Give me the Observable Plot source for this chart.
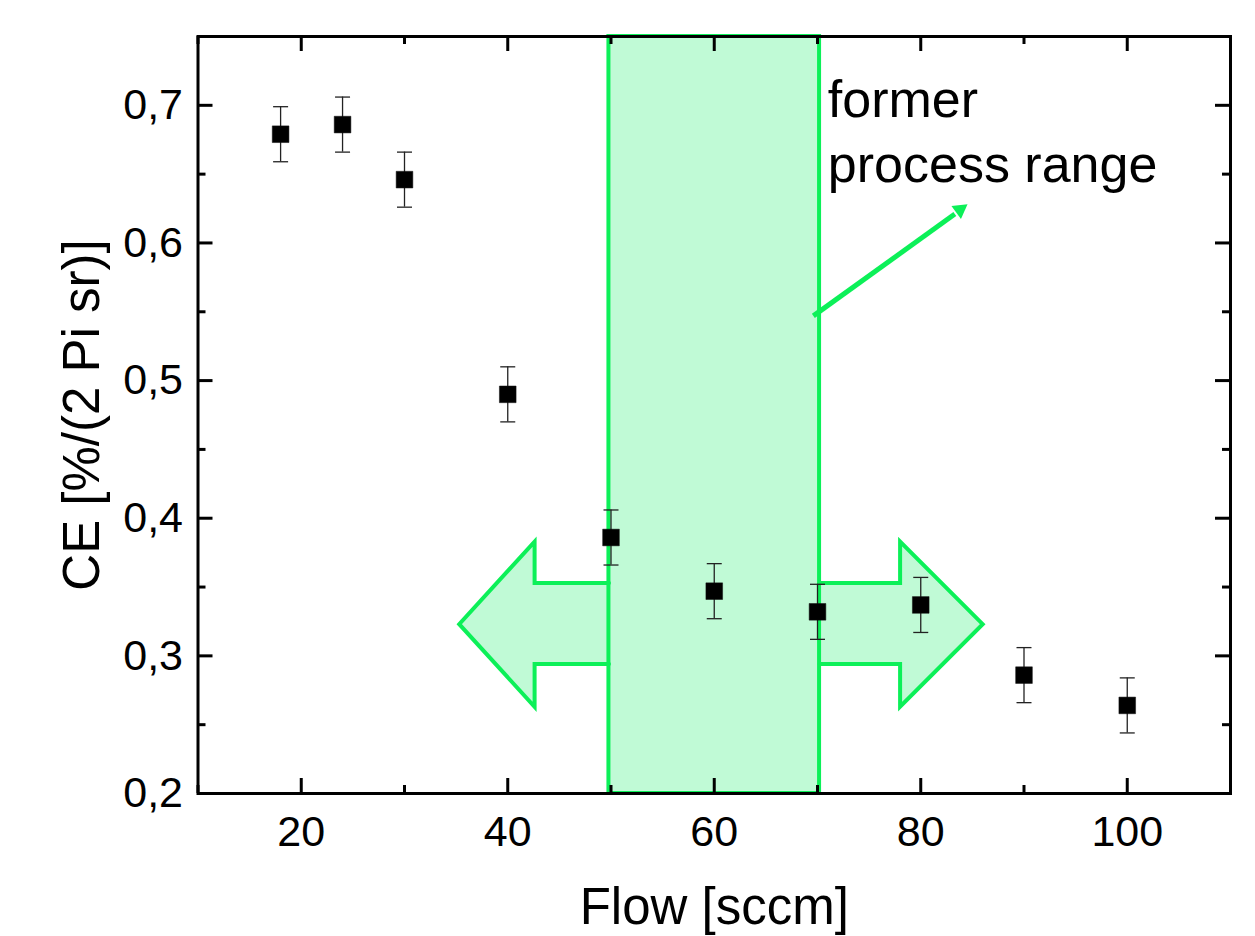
<!DOCTYPE html>
<html>
<head>
<meta charset="utf-8">
<script src="https://cdn.jsdelivr.net/npm/d3@7"></script>
<script src="https://cdn.jsdelivr.net/npm/@observablehq/plot@0.6"></script>
<style>
  body { margin: 0; background: #fff; }
  #chart svg { display: block; }
</style>
</head>
<body>
<div id="chart"></div>
<script>
// ---- data ----
const flow   = [18, 24, 30, 40, 50, 60, 70, 80, 90, 100];
const ce     = [0.679, 0.686, 0.646, 0.490, 0.386, 0.347, 0.332, 0.337, 0.286, 0.264];
const ceErr  = [0.02, 0.02, 0.02, 0.02, 0.02, 0.02, 0.02, 0.02, 0.02, 0.02];

const xMajor = [20, 40, 60, 80, 100];
const xMinor = [10, 30, 50, 70, 90, 110];
const yMajor = [0.2, 0.3, 0.4, 0.5, 0.6, 0.7];
const yMinor = [0.25, 0.35, 0.45, 0.55, 0.65, 0.75];

const rangeX = [49.8, 70.2];           // former process range
const rangeY = [0.2, 0.75];

const leftArrowX  = [49.8, 42.6, 42.6, 35.3, 42.6, 42.6, 49.8];
const leftArrowY  = [0.353, 0.353, 0.383, 0.323, 0.263, 0.294, 0.294];
const rightArrowX = [70.2, 78.0, 78.0, 86.0, 78.0, 78.0, 70.2];
const rightArrowY = [0.353, 0.353, 0.383, 0.323, 0.263, 0.294, 0.294];

const pointerX = [69.6, 83.3];
const pointerY = [0.547, 0.621];
const pointerHead = [83.8, 0.6241];

const noteLines = ["former", "process range"];
const noteAt = [71.0, 0.644];

const xLabel = "Flow [sccm]";
const yLabel = "CE [%/(2 Pi sr)]";

// ---- tables ----
const points = flow.map((f, i) => ({flow: f, ce: ce[i], err: ceErr[i]}));
const caps = points.flatMap(d => [{flow: d.flow, y: d.ce - d.err}, {flow: d.flow, y: d.ce + d.err}]);
const arrows = [
  ...leftArrowX.map((x, i) => ({x, y: leftArrowY[i], id: "L"})),
  ...rightArrowX.map((x, i) => ({x, y: rightArrowY[i], id: "R"}))
];

const green = "#0cf058";
const lightGreen = "#c0fad6";
const W = 1255, H = 936;
const mL = 197.5, mR = 25, mT = 36, mB = 143;
const plotW = W - mL - mR, plotH = H - mT - mB;
const majorLen = 15, minorLen = 8;

const capSymbol = {draw(ctx) { ctx.moveTo(-7.5, 0); ctx.lineTo(7.5, 0); }};
const fmtY = d => d.toFixed(1).replace(".", ",");

const chart = Plot.plot({
  width: W,
  height: H,
  marginLeft: mL,
  marginRight: mR,
  marginTop: mT,
  marginBottom: mB,
  style: {fontFamily: "'Liberation Sans', Arial, sans-serif", color: "black", background: "white"},
  x: {domain: [10, 110], axis: null},
  y: {domain: [0.2, 0.75], axis: null},
  marks: [
    // shaded range (fill only)
    Plot.rect([0], {x1: rangeX[0], x2: rangeX[1], y1: rangeY[0], y2: rangeY[1], fill: lightGreen}),
    // wide arrows
    Plot.line(arrows, {x: "x", y: "y", z: "id", fill: lightGreen, stroke: green, strokeWidth: 4, strokeLinejoin: "miter", strokeMiterlimit: 10}),
    // range outline
    Plot.rect([0], {x1: rangeX[0], x2: rangeX[1], y1: rangeY[0], y2: rangeY[1], fill: "none", stroke: green, strokeWidth: 4}),
    // pointer arrow
    Plot.link([0], {x1: pointerX[0], y1: pointerY[0], x2: pointerX[1], y2: pointerY[1], stroke: green, strokeWidth: 5}),
    Plot.dot([0], {x: pointerHead[0], y: pointerHead[1], symbol: "triangle", r: 6, rotate: 54, fill: green, stroke: "none"}),
    // annotation
    Plot.text([noteLines.join("\n")], {x: noteAt[0], y: noteAt[1], text: d => d, textAnchor: "start", lineAnchor: "bottom", lineHeight: 1.25, fontSize: 52, fill: "black"}),
    // error bars
    Plot.ruleX(points, {x: "flow", y1: d => d.ce - d.err, y2: d => d.ce + d.err, stroke: "#222", strokeWidth: 1.3}),
    Plot.dot(caps, {x: "flow", y: "y", symbol: capSymbol, fill: "none", stroke: "#222", strokeWidth: 1.3}),
    // data
    Plot.dot(points, {x: "flow", y: "ce", symbol: "square", r: 9.4, fill: "black", stroke: "#111", strokeWidth: 0.5}),
    // frame
    Plot.frame({stroke: "black", strokeWidth: 3}),
    // inward ticks: left/right
    Plot.tickY(yMajor, {y: d => d, insetRight: plotW - majorLen, stroke: "black", strokeWidth: 3}),
    Plot.tickY(yMinor, {y: d => d, insetRight: plotW - minorLen, stroke: "black", strokeWidth: 3}),
    Plot.tickY(yMajor, {y: d => d, insetLeft: plotW - majorLen, stroke: "black", strokeWidth: 3}),
    Plot.tickY(yMinor, {y: d => d, insetLeft: plotW - minorLen, stroke: "black", strokeWidth: 3}),
    // inward ticks: bottom/top
    Plot.tickX(xMajor, {x: d => d, insetTop: plotH - majorLen, stroke: "black", strokeWidth: 3}),
    Plot.tickX(xMinor, {x: d => d, insetTop: plotH - minorLen, stroke: "black", strokeWidth: 3}),
    Plot.tickX(xMajor, {x: d => d, insetBottom: plotH - majorLen, stroke: "black", strokeWidth: 3}),
    Plot.tickX(xMinor, {x: d => d, insetBottom: plotH - minorLen, stroke: "black", strokeWidth: 3}),
    // tick labels
    Plot.axisX(xMajor, {anchor: "bottom", tickSize: 0, tickPadding: 22, fontSize: 43, label: null, tickFormat: d => String(d)}),
    Plot.axisY(yMajor, {anchor: "left", tickSize: 0, tickPadding: 15, fontSize: 43, label: null, tickFormat: fmtY}),
    // axis titles
    Plot.text([xLabel], {frameAnchor: "bottom", text: d => d, dy: 130, textAnchor: "middle", lineAnchor: "bottom", fontSize: 51, fill: "black"}),
    Plot.text([yLabel], {frameAnchor: "left", text: d => d, rotate: -90, dx: -99.5, textAnchor: "middle", lineAnchor: "bottom", fontSize: 51, fill: "black"})
  ]
});
document.getElementById("chart").appendChild(chart);
</script>
</body>
</html>
